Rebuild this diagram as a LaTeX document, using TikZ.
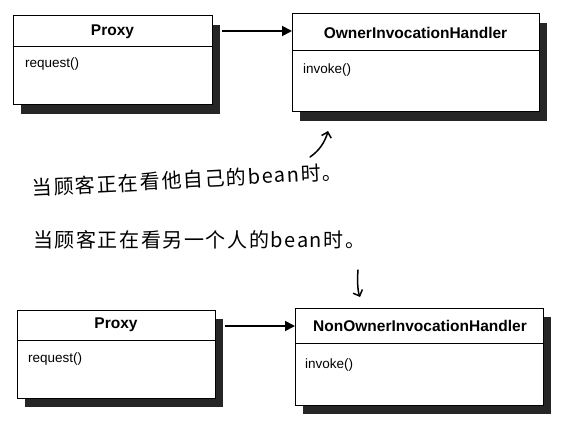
\documentclass[tikz,border=0pt]{standalone}
\usepackage{fontspec}
\setmainfont{Liberation Sans}
\newfontfamily\cjk{Noto Sans CJK SC}[LetterSpace=8]
\usetikzlibrary{shadows,arrows.meta}
\tikzset{
  umlbox/.style={draw=black, line width=1pt, fill=white, inner sep=0pt, outer sep=0pt, anchor=north west,
    drop shadow={shadow xshift=8pt, shadow yshift=-9pt, fill=black, opacity=0.85}},
  umltitle/.style={font=\fontsize{15.5}{18}\selectfont\bfseries, inner sep=0pt},
  umlop/.style={font=\fontsize{13.5}{16}\selectfont, inner sep=0pt, anchor=west},
  assoc/.style={line width=1.8pt, -{Triangle[length=10pt,width=10pt]}},
  hand/.style={line width=1.5pt, line cap=round, -{Straight Barb[length=5pt,width=10pt]}},
  note/.style={font=\cjk\fontsize{20}{24}\selectfont, inner sep=0pt, anchor=west}
}
\begin{document}
\begin{tikzpicture}[x=1pt,y=1pt]
\useasboundingbox (0,0) rectangle (564,-438);
% top pair
\node[umlbox, minimum width=199pt, minimum height=89pt] (p1) at (13,-16) {};
\draw[line width=1pt] ([yshift=-31pt]p1.north west) -- ([yshift=-31pt]p1.north east);
\node[umltitle] (p1t) at (112.5,-31.5) {Proxy};
\node[umlop] (p1m) at (25,-64) {request()};

\node[umlbox, minimum width=247pt, minimum height=98pt] (o1) at (292,-14) {};
\draw[line width=1pt] ([yshift=-37pt]o1.north west) -- ([yshift=-37pt]o1.north east);
\node[umltitle] (o1t) at (415.5,-32.5) {OwnerInvocationHandler};
\node[umlop] (o1m) at (303,-70) {invoke()};

\coordinate (a1s) at ([xshift=10pt,yshift=-15pt]p1.north east);
\draw[assoc] (a1s) -- (a1s -| o1.west);

% bottom pair
\node[umlbox, minimum width=198pt, minimum height=88pt] (p2) at (17,-310) {};
\draw[line width=1pt] ([yshift=-30pt]p2.north west) -- ([yshift=-30pt]p2.north east);
\node[umltitle] (p2t) at (116,-325) {Proxy};
\node[umlop] (p2m) at (28,-359) {request()};

\node[umlbox, minimum width=248pt, minimum height=97pt] (n2) at (295,-308) {};
\draw[line width=1pt] ([yshift=-35pt]n2.north west) -- ([yshift=-35pt]n2.north east);
\node[umltitle] (n2t) at (420,-325.5) {NonOwnerInvocationHandler};
\node[umlop] (n2m) at (305,-365) {invoke()};

\coordinate (a2s) at ([xshift=10pt,yshift=-16pt]p2.north east);
\draw[assoc] (a2s) -- (a2s -| n2.west);

% notes
\node[note, rotate=3] (t1) at (32,-188) {当顾客正在看他自己的bean时。};
\node[note] (t2) at (33,-240) {当顾客正在看另一个人的bean时。};

\coordinate (h1s) at (310,-157);
\coordinate (h1e) at (328,-131);
\draw[hand] (h1s) .. controls (319,-151) and (325,-142) .. (h1e);
\coordinate (h2s) at (358,-270);
\coordinate (h2e) at (360,-297);
\draw[hand] (h2s) .. controls (357,-282) and (358,-292) .. (h2e);
\end{tikzpicture}
\end{document}
